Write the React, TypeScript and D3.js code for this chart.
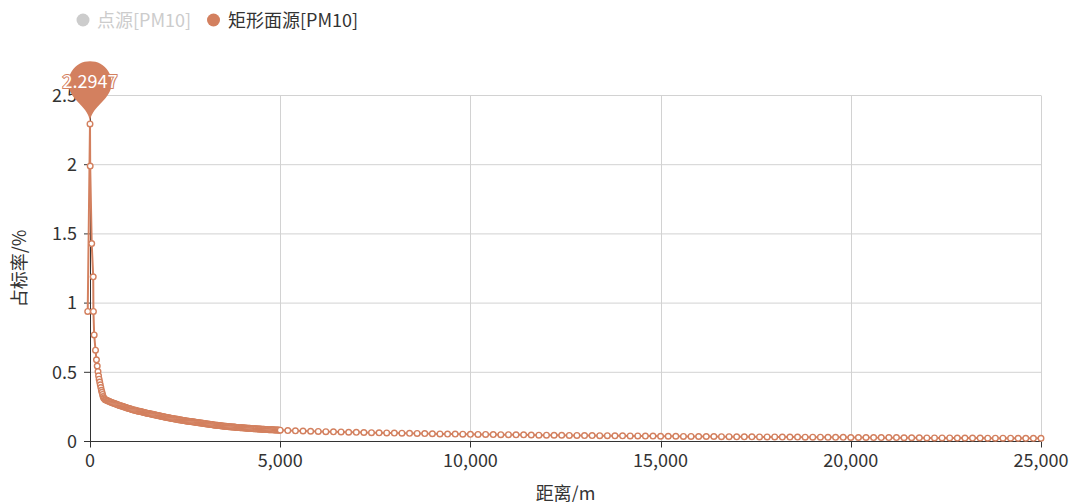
import React from "react";
import * as d3 from "d3";

const COLOR = "#d3805f";

const legendNames = ["点源[PM10]", "矩形面源[PM10]"];
const xTicks = [0, 5000, 10000, 15000, 20000, 25000];
const yTicks = [0, 0.5, 1, 1.5, 2, 2.5];
const xName = "距离/m";
const yName = "占标率/%";
const maxLabel = "2.2947";

const nearDist = [-60, 0, 5, 45, 85, 90, 110, 145, 170, 190, 210, 225, 240, 255, 270, 285, 300, 315, 330, 345, 360, 380, 400];
const nearVal = [0.94, 2.2947, 1.99, 1.43, 1.19, 0.94, 0.77, 0.66, 0.59, 0.545, 0.505, 0.475, 0.45, 0.43, 0.41, 0.39, 0.37, 0.355, 0.34, 0.325, 0.315, 0.308, 0.302];

const midDist = [
  425, 450, 475, 500, 525, 550, 575, 600, 625, 650, 675, 700, 725, 750, 775, 800, 825, 850, 875, 900, 925, 950, 975, 1000,
  1025, 1050, 1075, 1100, 1125, 1150, 1175, 1200, 1225, 1250, 1275, 1300, 1325, 1350, 1375, 1400, 1425, 1450, 1475, 1500,
  1525, 1550, 1575, 1600, 1625, 1650, 1675, 1700, 1725, 1750, 1775, 1800, 1825, 1850, 1875, 1900, 1925, 1950, 1975, 2000,
  2025, 2050, 2075, 2100, 2125, 2150, 2175, 2200, 2225, 2250, 2275, 2300, 2325, 2350, 2375, 2400, 2425, 2450, 2475, 2500,
  2525, 2550, 2575, 2600, 2625, 2650, 2675, 2700, 2725, 2750, 2775, 2800, 2825, 2850, 2875, 2900, 2925, 2950, 2975, 3000,
  3025, 3050, 3075, 3100, 3125, 3150, 3175, 3200, 3225, 3250, 3275, 3300, 3325, 3350, 3375, 3400, 3425, 3450, 3475, 3500,
  3525, 3550, 3575, 3600, 3625, 3650, 3675, 3700, 3725, 3750, 3775, 3800, 3825, 3850, 3875, 3900, 3925, 3950, 3975, 4000,
  4025, 4050, 4075, 4100, 4125, 4150, 4175, 4200, 4225, 4250, 4275, 4300, 4325, 4350, 4375, 4400, 4425, 4450, 4475, 4500,
  4525, 4550, 4575, 4600, 4625, 4650, 4675, 4700, 4725, 4750, 4775, 4800, 4825, 4850, 4875, 4900, 4925, 4950, 4975, 5000,
];
const midVal = [
  0.299, 0.296, 0.293, 0.29, 0.287, 0.284, 0.281, 0.279, 0.276, 0.274, 0.271, 0.269, 0.266, 0.264, 0.261, 0.259, 0.257, 0.255, 0.252, 0.25, 0.247, 0.245, 0.242, 0.24,
  0.238, 0.236, 0.234, 0.232, 0.23, 0.228, 0.226, 0.225, 0.223, 0.221, 0.219, 0.218, 0.216, 0.215, 0.213, 0.211, 0.209, 0.208, 0.206, 0.205,
  0.203, 0.202, 0.2, 0.199, 0.197, 0.196, 0.194, 0.193, 0.191, 0.19, 0.188, 0.187, 0.185, 0.184, 0.182, 0.181, 0.179, 0.178, 0.176, 0.175,
  0.173, 0.172, 0.171, 0.17, 0.168, 0.167, 0.166, 0.165, 0.163, 0.162, 0.161, 0.16, 0.158, 0.157, 0.156, 0.155, 0.153, 0.152, 0.151, 0.15,
  0.149, 0.148, 0.147, 0.146, 0.145, 0.144, 0.143, 0.142, 0.141, 0.14, 0.139, 0.138, 0.137, 0.136, 0.135, 0.134, 0.133, 0.132, 0.131, 0.13,
  0.129, 0.128, 0.127, 0.126, 0.125, 0.124, 0.123, 0.122, 0.121, 0.12, 0.119, 0.118, 0.1175, 0.117, 0.116, 0.115, 0.114, 0.113, 0.1125, 0.112,
  0.111, 0.11, 0.1095, 0.109, 0.108, 0.107, 0.1065, 0.106, 0.1055, 0.105, 0.1045, 0.104, 0.103, 0.102, 0.1015, 0.101, 0.1005, 0.1, 0.0995, 0.099,
  0.0985, 0.098, 0.0975, 0.097, 0.0965, 0.096, 0.0955, 0.095, 0.0945, 0.094, 0.0935, 0.093, 0.0925, 0.092, 0.0915, 0.091, 0.0905, 0.09, 0.0895, 0.089,
  0.089, 0.0885, 0.088, 0.0875, 0.087, 0.0865, 0.086, 0.0858, 0.0855, 0.085, 0.0848, 0.0845, 0.084, 0.0838, 0.0835, 0.083, 0.0828, 0.0825, 0.082, 0.0818,
];

const farDist = [
  5200, 5400, 5600, 5800, 6000, 6200, 6400, 6600, 6800, 7000,
  7200, 7400, 7600, 7800, 8000, 8200, 8400, 8600, 8800, 9000,
  9200, 9400, 9600, 9800, 10000, 10200, 10400, 10600, 10800, 11000,
  11200, 11400, 11600, 11800, 12000, 12200, 12400, 12600, 12800, 13000,
  13200, 13400, 13600, 13800, 14000, 14200, 14400, 14600, 14800, 15000,
  15200, 15400, 15600, 15800, 16000, 16200, 16400, 16600, 16800, 17000,
  17200, 17400, 17600, 17800, 18000, 18200, 18400, 18600, 18800, 19000,
  19200, 19400, 19600, 19800, 20000, 20200, 20400, 20600, 20800, 21000,
  21200, 21400, 21600, 21800, 22000, 22200, 22400, 22600, 22800, 23000,
  23200, 23400, 23600, 23800, 24000, 24200, 24400, 24600, 24800, 25000,
];
const farVal = [
  0.079, 0.077, 0.076, 0.074, 0.073, 0.071, 0.07, 0.069, 0.067, 0.066,
  0.065, 0.064, 0.063, 0.062, 0.061, 0.06, 0.059, 0.058, 0.057, 0.056,
  0.055, 0.054, 0.054, 0.053, 0.052, 0.051, 0.051, 0.05, 0.049, 0.049,
  0.048, 0.048, 0.047, 0.046, 0.046, 0.045, 0.045, 0.044, 0.044, 0.043,
  0.043, 0.042, 0.042, 0.041, 0.041, 0.04, 0.04, 0.039, 0.039, 0.038,
  0.038, 0.038, 0.037, 0.037, 0.036, 0.036, 0.036, 0.035, 0.035, 0.034,
  0.034, 0.034, 0.033, 0.033, 0.033, 0.032, 0.032, 0.032, 0.031, 0.031,
  0.031, 0.03, 0.03, 0.03, 0.029, 0.029, 0.029, 0.028, 0.028, 0.028,
  0.028, 0.027, 0.027, 0.027, 0.026, 0.026, 0.026, 0.026, 0.025, 0.025,
  0.025, 0.025, 0.024, 0.024, 0.024, 0.024, 0.023, 0.023, 0.023, 0.023,
];

const FONT = "'Noto Sans CJK SC', 'Noto Sans', sans-serif";

function pinPath(tipX: number, tipY: number, width: number, height: number) {
  const w = (width / 5) * 3;
  const h = Math.max(w, height);
  const r = w / 2;
  const dy = (r * r) / (h - r);
  const cy = tipY - h + r + dy;
  const angle = Math.asin(dy / r);
  const dx = Math.cos(angle) * r;
  const tanX = Math.sin(angle);
  const tanY = Math.cos(angle);
  const cpLen = r * 0.6;
  const cpLen2 = r * 0.7;
  const p = d3.path();
  p.moveTo(tipX - dx, cy + dy);
  p.arc(tipX, cy, r, Math.PI - angle, Math.PI * 2 + angle);
  p.bezierCurveTo(tipX + dx - tanX * cpLen, cy + dy + tanY * cpLen, tipX, tipY - cpLen2, tipX, tipY);
  p.bezierCurveTo(tipX, tipY - cpLen2, tipX - dx + tanX * cpLen, cy + dy + tanY * cpLen, tipX - dx, cy + dy);
  p.closePath();
  return { d: p.toString(), cy };
}

export default function App() {
  const left = 90, right = 1041, top = 95.5, bottom = 441.5;
  const x = d3.scaleLinear().domain([0, 25000]).range([left, right]);
  const y = d3.scaleLinear().domain([0, 2.5]).range([bottom, top]);

  const dist = [...nearDist, ...midDist, ...farDist];
  const vals = [...nearVal, ...midVal, ...farVal];
  const pts: [number, number][] = dist.map((d, i) => [d, vals[i]]);

  const line = d3.line<[number, number]>().x((d) => x(d[0])).y((d) => y(d[1]));
  const fmt = d3.format(",");

  const maxIdx = d3.maxIndex(vals);
  const pin = pinPath(x(dist[maxIdx]), y(vals[maxIdx]), 72, 72);

  return (
    <svg width={1070} height={502} style={{ position: "absolute", left: 0, top: 0, background: "#fff" }} fontFamily={FONT}>
      {/* legend */}
      <g fontSize={18}>
        <circle cx={83} cy={20} r={6.5} fill="#cccccc" />
        <text x={97} y={26.5} fill="#cccccc">{legendNames[0]}</text>
        <circle cx={213.5} cy={20} r={6.5} fill={COLOR} />
        <text x={228} y={26.5} fill="#333">{legendNames[1]}</text>
      </g>

      {/* grid */}
      <g stroke="#d2d2d2" strokeWidth={1}>
        {yTicks.filter((t) => t > 0).map((t) => (
          <line key={"gy" + t} x1={left} x2={right} y1={y(t)} y2={y(t)} />
        ))}
        {xTicks.filter((t) => t > 0).map((t) => (
          <line key={"gx" + t} x1={Math.round(x(t)) + 0.5} x2={Math.round(x(t)) + 0.5} y1={top} y2={bottom} />
        ))}
      </g>

      {/* y axis */}
      <g>
        <line x1={left + 0.5} x2={left + 0.5} y1={top} y2={bottom} stroke="#333" />
        {yTicks.map((t) => (
          <g key={"yt" + t}>
            <line x1={left - 6} x2={left} y1={y(t)} y2={y(t)} stroke="#333" />
            <text x={77} y={y(t)} dy="0.35em" textAnchor="end" fontSize={18} fill="#333">{String(t)}</text>
          </g>
        ))}
        <text transform={`translate(26,${(top + bottom) / 2}) rotate(-90)`} textAnchor="middle" fontSize={18} fill="#333">{yName}</text>
      </g>

      {/* x axis */}
      <g>
        <line x1={left} x2={right} y1={bottom} y2={bottom} stroke="#333" />
        {xTicks.map((t) => (
          <g key={"xt" + t}>
            <line x1={Math.round(x(t)) + 0.5} x2={Math.round(x(t)) + 0.5} y1={bottom} y2={bottom + 6} stroke="#333" />
            <text x={x(t)} y={467} textAnchor="middle" fontSize={18} fill="#333">{fmt(t)}</text>
          </g>
        ))}
        <text x={(left + right) / 2} y={500} textAnchor="middle" fontSize={18} fill="#333">{xName}</text>
      </g>

      {/* series */}
      <path d={line(pts) || ""} fill="none" stroke={COLOR} strokeWidth={2} strokeLinejoin="round" />
      <g>
        {pts.map((p, i) => (
          <circle key={"p" + i} cx={x(p[0])} cy={y(p[1])} r={2.8} fill="#fff" stroke={COLOR} strokeWidth={1.4} />
        ))}
      </g>

      {/* mark point */}
      <path d={pin.d} fill={COLOR} />
      <text
        x={x(dist[maxIdx])}
        y={pin.cy - 1}
        dy="0.35em"
        textAnchor="middle"
        fontSize={18}
        fill="#fff"
        stroke={COLOR}
        strokeWidth={2}
        paintOrder="stroke"
      >
        {maxLabel}
      </text>
    </svg>
  );
}
